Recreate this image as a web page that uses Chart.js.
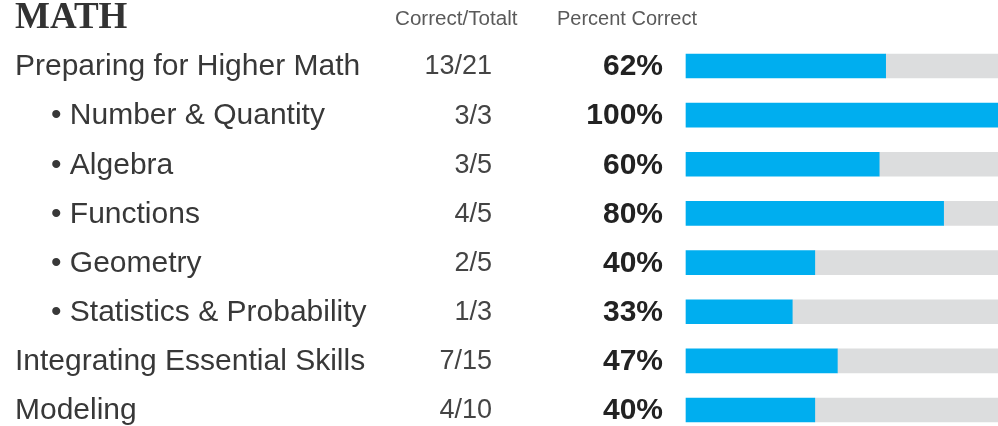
<!DOCTYPE html>
<html>
<head>
<meta charset="utf-8">
<script src="https://cdn.jsdelivr.net/npm/chart.js@4"></script>
<style>
    html, body { margin: 0; padding: 0; background: #fff; overflow: hidden; }
    #wrap { width: 998px; height: 426px; overflow: hidden; }
</style>
</head>
<body>
<div id="wrap"><canvas id="mathChart" width="1010" height="426"></canvas></div>
<script>
// ── Data ────────────────────────────────────
const categories = [
    'Preparing for Higher Math',
    'Number & Quantity',
    'Algebra',
    'Functions',
    'Geometry',
    'Statistics & Probability',
    'Integrating Essential Skills',
    'Modeling'
];
const isSubItem = [false, true, true, true, true, true, false, false];
const correct = [13, 3, 3, 4, 2, 1, 7, 4];
const totals = [21, 3, 5, 5, 5, 3, 15, 10];
const percents = [62, 100, 60, 80, 40, 33, 47, 40];

const colors = {
    bar: '#00AEEF',
    track: '#DCDDDE',
    label: '#383838',
    count: '#444444',
    percent: '#222222',
    header: '#5a5a5a'
};

// ── Text columns drawn next to the bars ─────
const tablePlugin = {
    id: 'tableText',
    afterDraw(chart) {
        const ctx = chart.ctx;
        const y = chart.scales.y;
        ctx.save();

        // title + column headers
        ctx.textBaseline = 'alphabetic';
        ctx.fillStyle = '#333333';
        ctx.font = 'bold 37px "Liberation Serif", "Times New Roman", serif';
        ctx.textAlign = 'left';
        ctx.fillText('MATH', 15, 28);

        ctx.fillStyle = colors.header;
        ctx.font = '20px "Liberation Sans", Arial, sans-serif';
        ctx.save();
        ctx.translate(395, 25);
        ctx.scale(1.03, 1);
        ctx.fillText('Correct/Totalt', 0, 0);
        ctx.restore();
        ctx.fillText('Percent Correct', 557, 25);

        ctx.textBaseline = 'middle';
        categories.forEach((name, i) => {
            const py = y.getPixelForValue(i) + 1;

            ctx.font = '30px "Liberation Sans", Arial, sans-serif';
            ctx.textAlign = 'left';
            ctx.fillStyle = colors.label;
            if (isSubItem[i]) {
                ctx.fillText('\u2022 ' + name, 51, py);
            } else {
                ctx.fillText(name, 15, py);
            }

            ctx.font = '27px "Liberation Sans", Arial, sans-serif';
            ctx.textAlign = 'right';
            ctx.fillStyle = colors.count;
            ctx.fillText(correct[i] + '/' + totals[i], 492, py);

            ctx.font = 'bold 30px "Liberation Sans", Arial, sans-serif';
            ctx.fillStyle = colors.percent;
            ctx.fillText(percents[i] + '%', 663, py);
        });
        ctx.restore();
    }
};

// ── Bar Chart ───────────────────────────────
new Chart(document.getElementById('mathChart'), {
    type: 'bar',
    data: {
        labels: categories,
        datasets: [{
            label: 'Percent Correct',
            data: percents,
            backgroundColor: colors.bar,
            borderWidth: 0,
            barThickness: 24,
            clip: false
        }, {
            label: 'Remaining',
            data: percents.map(p => 100 - p),
            backgroundColor: colors.track,
            borderWidth: 0,
            barThickness: 24,
            clip: false
        }]
    },
    options: {
        indexAxis: 'y',
        responsive: false,
        animation: false,
        devicePixelRatio: 1,
        layout: { padding: { left: 686, right: 2, top: 66, bottom: 16 } },
        scales: {
            x: { stacked: true, min: 0, max: 100, display: false },
            y: { stacked: true, offset: false, display: false }
        },
        plugins: {
            legend: { display: false },
            tooltip: { enabled: false }
        }
    },
    plugins: [tablePlugin]
});
</script>
</body>
</html>
